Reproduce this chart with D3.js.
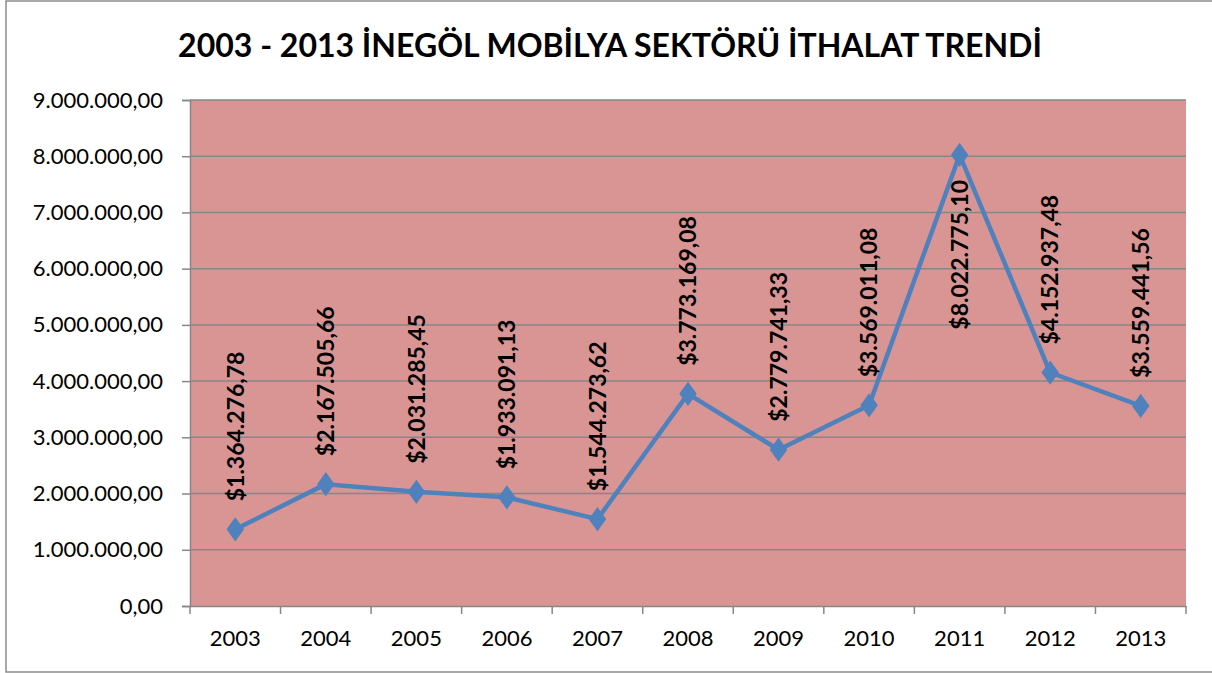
<!DOCTYPE html>
<html>
<head>
<meta charset="utf-8">
<script src="https://cdn.jsdelivr.net/npm/d3@7"></script>
<style>
  body { margin: 0; background: #fff; }
  svg { display: block; font-family: Lato, "Liberation Sans", sans-serif; }
</style>
</head>
<body>
<svg id="chart" width="1212" height="673"></svg>
<script>
const years = ["2003", "2004", "2005", "2006", "2007", "2008", "2009", "2010", "2011", "2012", "2013"];
const imports = [1364276.78, 2167505.66, 2031285.45, 1933091.13, 1544273.62, 3773169.08,
                 2779741.33, 3569011.08, 8022775.10, 4152937.48, 3559441.56];
const yTicks = [0, 1000000, 2000000, 3000000, 4000000, 5000000, 6000000, 7000000, 8000000, 9000000];
const title = "2003 - 2013 İNEGÖL MOBİLYA SEKTÖRÜ İTHALAT TRENDİ";

const svg = d3.select("#chart");
const margin = { top: 100, right: 26, bottom: 67, left: 190 },
      width = +svg.attr("width") - margin.left - margin.right,
      height = +svg.attr("height") - margin.top - margin.bottom;

const trLocale = d3.formatLocale({ decimal: ",", thousands: ".", grouping: [3], currency: ["$", ""] });
const fmtTick = trLocale.format(",.2f");
const fmtLabel = trLocale.format("$,.2f");

// outer chart border
svg.append("rect")
  .attr("x", 6).attr("y", 1)
  .attr("width", 1212).attr("height", 671)
  .attr("fill", "none")
  .attr("stroke", "#8c8c8c")
  .attr("stroke-width", 1.5);

svg.append("text")
  .attr("x", 610)
  .attr("y", 57)
  .attr("text-anchor", "middle")
  .style("font-size", "32px")
  .style("font-weight", "bold")
  .text(title);

const g = svg.append("g").attr("transform", `translate(${margin.left},${margin.top})`);

const x = d3.scaleBand().domain(years).range([0, width]).padding(0);
const y = d3.scaleLinear().domain([0, 9000000]).range([height, 0]);

g.append("rect")
  .attr("width", width).attr("height", height)
  .attr("fill", "#d99594");

// gridlines
g.selectAll(".grid")
  .data(yTicks.filter(d => d > 0))
  .enter().append("line")
  .attr("x1", 0).attr("x2", width)
  .attr("y1", d => y(d)).attr("y2", d => y(d))
  .attr("stroke", "#878787")
  .attr("stroke-width", 1.5);

const yAxis = g.append("g")
  .attr("font-family", null)
  .call(d3.axisLeft(y).tickValues(yTicks).tickFormat(fmtTick).tickSize(8).tickPadding(19));
yAxis.attr("font-family", null).attr("font-size", null);
yAxis.select(".domain").attr("stroke", "#878787").attr("stroke-width", 1.5);
yAxis.selectAll(".tick line").attr("stroke", "#878787").attr("stroke-width", 1.5);
yAxis.selectAll("text").style("font-size", "22px").attr("fill", "#000");

const xAxis = g.append("g")
  .attr("transform", `translate(0,${height})`)
  .call(d3.axisBottom(x).tickSize(0).tickPadding(24));
xAxis.attr("font-family", null).attr("font-size", null);
xAxis.select(".domain").attr("stroke", "#878787").attr("stroke-width", 1.5);
xAxis.selectAll("text").style("font-size", "22px").attr("fill", "#000");

// category boundary ticks
g.selectAll(".xtick")
  .data(d3.range(years.length + 1))
  .enter().append("line")
  .attr("x1", i => i * x.step()).attr("x2", i => i * x.step())
  .attr("y1", height).attr("y2", height + 8)
  .attr("stroke", "#878787")
  .attr("stroke-width", 1.5);

const cx = (d, i) => x(years[i]) + x.bandwidth() / 2;

const line = d3.line()
  .x((d, i) => cx(d, i))
  .y(d => y(d));

g.append("path")
  .datum(imports)
  .attr("fill", "none")
  .attr("stroke", "#4f81bd")
  .attr("stroke-width", 4.5)
  .attr("stroke-linejoin", "round")
  .attr("d", line);

g.selectAll(".marker")
  .data(imports)
  .enter().append("path")
  .attr("d", d3.symbol(d3.symbolDiamond, 170))
  .attr("transform", (d, i) => `translate(${cx(d, i)},${y(d)}) scale(1.25,1)`)
  .attr("fill", "#4f81bd");

// data labels above the point, or below it when there is no room (like Excel does)
g.selectAll(".label")
  .data(imports)
  .enter().append("text")
  .attr("dy", "0.36em")
  .style("font-size", "23px")
  .style("font-weight", "bold")
  .text(d => fmtLabel(d))
  .each(function (d, i) {
    const len = this.getComputedTextLength();
    const el = d3.select(this);
    if (y(d) - 28 - len < 0) {
      el.attr("text-anchor", "end")
        .attr("transform", `translate(${cx(d, i)},${y(d) + 25}) rotate(-90)`);
    } else {
      el.attr("transform", `translate(${cx(d, i)},${y(d) - 28}) rotate(-90)`);
    }
  });
</script>
</body>
</html>
